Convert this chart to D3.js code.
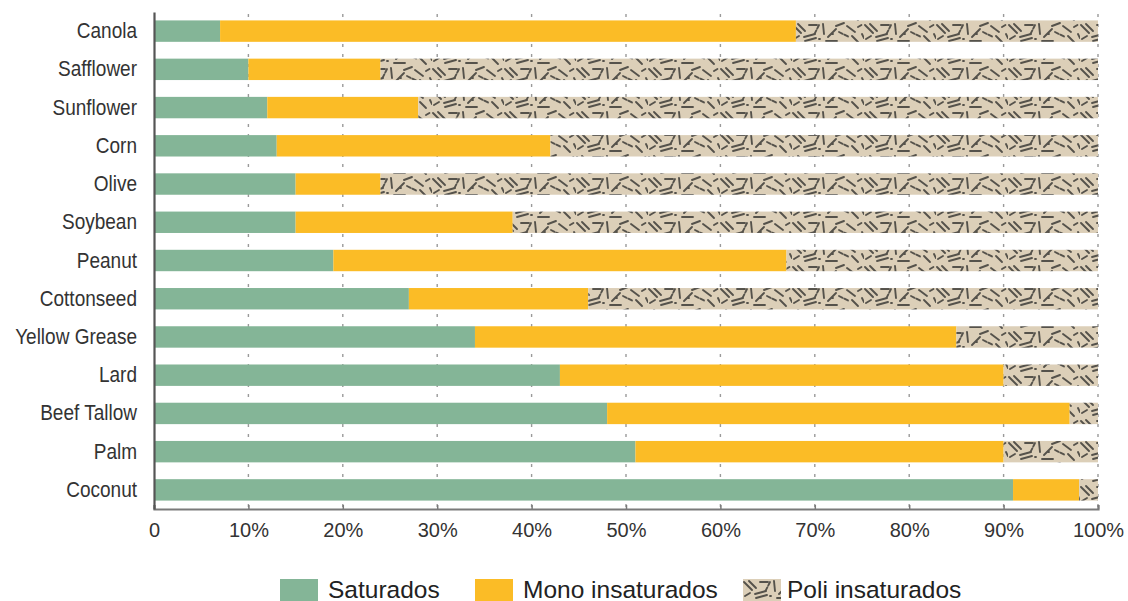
<!DOCTYPE html>
<html>
<head>
<meta charset="utf-8">
<script src="https://cdn.jsdelivr.net/npm/d3@7"></script>
<style>
  html, body { margin: 0; padding: 0; background: #fff; }
  svg { display: block; }
</style>
</head>
<body>
<svg id="chart" width="1128" height="601"></svg>
<script>
// Fat composition by oil / fat (% of total)
const categories = ["Canola", "Safflower", "Sunflower", "Corn", "Olive", "Soybean", "Peanut",
  "Cottonseed", "Yellow Grease", "Lard", "Beef Tallow", "Palm", "Coconut"];
const saturados = [7, 10, 12, 13, 15, 15, 19, 27, 34, 43, 48, 51, 91];
const monoInsaturados = [61, 14, 16, 29, 9, 23, 48, 19, 51, 47, 49, 39, 7];
const poliInsaturados = [32, 76, 72, 58, 76, 62, 33, 54, 15, 10, 3, 10, 2];
const seriesNames = ["Saturados", "Mono insaturados", "Poli insaturados"];
const tickValues = [0, 10, 20, 30, 40, 50, 60, 70, 80, 90, 100];
const tickLabels = ["0", "10%", "20%", "30%", "40%", "50%", "60%", "70%", "80%", "90%", "100%"];

const svg = d3.select("#chart");
const plotLeft = 154, plotRight = 1098, plotTop = 12, plotBottom = 509;

// Hatch texture for the polyunsaturated segment: short strokes at mixed angles
const defs = svg.append("defs");
const pat = defs.append("pattern")
  .attr("id", "poli")
  .attr("patternUnits", "userSpaceOnUse")
  .attr("width", 72).attr("height", 22);
pat.append("rect").attr("width", 72).attr("height", 22).attr("fill", "#dccfb8");
const strokes = [
  [1, 3, 9, 11], [6, 2, 13, 9], [12, 15, 23, 12], [13, 19, 24, 16], [27, 3, 22, 13],
  [31, 2, 32, 12], [36, 15, 44, 7], [34, 19, 45, 19], [44, 4, 52, 1], [47, 10, 57, 15],
  [55, 4, 63, 10], [60, 14, 66, 20], [2, 17, 7, 14], [17, 3, 25, 3], [66, 5, 71, 2],
  [40, 12, 41, 12], [27, 17, 28, 17], [70, 12, 72, 16]
];
pat.selectAll("line").data(strokes).join("line")
  .attr("x1", d => d[0]).attr("y1", d => d[1])
  .attr("x2", d => d[2]).attr("y2", d => d[3])
  .attr("stroke", "#55524b").attr("stroke-width", 1.9)
  .attr("stroke-linecap", "round")
  .attr("stroke-dasharray", (d, i) => i % 5 === 4 ? "4,2" : null);

const colors = ["#84b597", "#fbbc26", "url(#poli)"];

const x = d3.scaleLinear().domain([0, 100]).range([plotLeft, plotRight]);
const y = d3.scaleBand().domain(categories).range([plotTop, plotBottom])
  .paddingInner(0.44).paddingOuter(0.22);

// Dashed vertical gridlines
svg.append("g").selectAll("line").data(tickValues.slice(1)).join("line")
  .attr("x1", d => x(d)).attr("x2", d => x(d))
  .attr("y1", plotTop + 2).attr("y2", plotBottom)
  .attr("stroke", "#9a9a9a").attr("stroke-width", 1.4)
  .attr("stroke-dasharray", "3,7");

// Stacked bars
const rows = categories.map((c, i) => ({
  name: c,
  "Saturados": saturados[i],
  "Mono insaturados": monoInsaturados[i],
  "Poli insaturados": poliInsaturados[i]
}));
const stacked = d3.stack().keys(seriesNames)(rows);

svg.append("g").selectAll("g").data(stacked).join("g")
  .attr("fill", (d, i) => colors[i])
  .selectAll("rect").data(d => d).join("rect")
  .attr("x", d => x(d[0]))
  .attr("y", d => y(d.data.name))
  .attr("width", d => x(d[1]) - x(d[0]))
  .attr("height", y.bandwidth());

// Axes
const xAxis = d3.axisBottom(x).tickValues(tickValues)
  .tickFormat((d, i) => tickLabels[i]).tickSize(-4).tickPadding(14);
const gx = svg.append("g").attr("transform", `translate(0,${plotBottom})`).call(xAxis);
gx.select(".domain").attr("stroke", "#7a7a7a").attr("stroke-width", 2.2);
gx.selectAll(".tick line").attr("stroke", "#7a7a7a").attr("stroke-width", 1.5);
gx.selectAll(".tick text")
  .attr("font-family", "'Liberation Sans', Arial, sans-serif")
  .attr("font-size", 20).attr("fill", "#333");

// Category labels use a horizontally condensed face
const squeeze = 0.865;
const yAxis = d3.axisLeft(y).tickSize(0).tickPadding(17);
const gy = svg.append("g").attr("transform", `translate(${plotLeft},0)`).call(yAxis);
gy.select(".domain").attr("stroke", "#555").attr("stroke-width", 2.2);
gy.selectAll(".tick text")
  .attr("font-family", "'Liberation Sans', Arial, sans-serif")
  .attr("font-size", 22).attr("fill", "#333")
  .attr("x", -17 / squeeze)
  .attr("transform", `scale(${squeeze},1)`);

// Legend
const legendX = [280, 475, 743];
const lg = svg.append("g").selectAll("g").data(seriesNames).join("g")
  .attr("transform", (d, i) => `translate(${legendX[i]},579)`);
lg.append("rect").attr("width", 38).attr("height", 22)
  .attr("fill", (d, i) => colors[i]);
lg.append("text")
  .attr("x", (d, i) => i === 2 ? 44 : 48).attr("y", 18.5)
  .attr("font-family", "'Liberation Sans', Arial, sans-serif")
  .attr("font-size", 24.5).attr("fill", "#222")
  .text(d => d);
</script>
</body>
</html>
